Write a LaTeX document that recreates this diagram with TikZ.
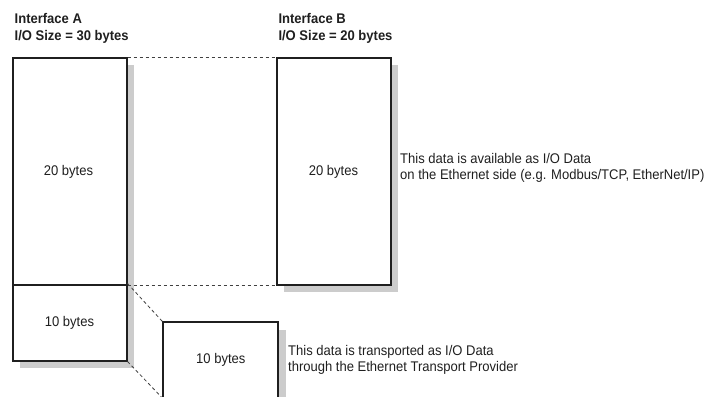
\documentclass[tikz,border=0pt]{standalone}
\usepackage{fontspec}
\setmainfont[FakeStretch=0.93]{Liberation Sans}
\begin{document}
\begin{tikzpicture}[x=1pt,y=-1pt,
  box/.style={draw=black!88,line width=2pt,fill=white,inner sep=0pt},
  shadow/.style={fill=black!20,draw=none},
  dashline/.style={line width=0.8pt,dash pattern=on 3.3pt off 2.7pt,black!75},
  lbl/.style={font=\fontsize{14}{16}\selectfont,text=black!88,inner sep=0pt},
  note/.style={font=\fontsize{14}{16.7}\selectfont,align=left,anchor=north west,text=black!88,inner sep=0pt},
  head/.style={font=\bfseries\fontsize{14}{17}\selectfont,align=left,anchor=north west,text=black!88,inner sep=0pt}]
\useasboundingbox (0,0) rectangle (708,396);
\clip (0,0) rectangle (708,396);
% shadows
\fill[shadow] (20,65) rectangle (134,368);
\fill[shadow] (284,65) rectangle (398,292);
\fill[shadow] (171,330) rectangle (286,410);
% boxes
\node[box,minimum width=114pt,minimum height=226.5pt] (a1) at (69.5,171.5) {};
\node[box,minimum width=114pt,minimum height=76pt] (a2) at (69.5,322.5) {};
\node[box,minimum width=113.5pt,minimum height=226.5pt] (b) at (333.75,171.5) {};
\node[box,minimum width=114.5pt,minimum height=100pt] (c) at (220.5,372.3) {};
\node[lbl] (ta1) at (68.5,171.4) {20 bytes};
\node[lbl] (ta2) at (69.5,323) {10 bytes};
\node[lbl] (tb) at (333.5,171.4) {20 bytes};
\node[lbl] (tc) at (220.8,359.7) {10 bytes};
\coordinate (cend) at (163.3,399);
% dashed connectors
\draw[dashline] (a1.north east) -- (b.north west);
\draw[dashline] (a1.south east) -- (b.south west);
\draw[dashline] (a2.north east) -- (c.north west);
\draw[dashline] (a2.south east) -- (cend);
% headings
\node[head] (ha) at (14.5,13.3) {Interface A\\I/O Size = 30 bytes};
\node[head] (hb) at (278.3,13.3) {Interface B\\I/O Size = 20 bytes};
% notes
\node[note] (n1) at (400,152.8) {This data is available as I/O Data\\on the Ethernet side (e.g. Modbus/TCP, EtherNet/IP)};
\node[note] (n2) at (288,344.8) {This data is transported as I/O Data\\through the Ethernet Transport Provider};
\end{tikzpicture}
\end{document}
